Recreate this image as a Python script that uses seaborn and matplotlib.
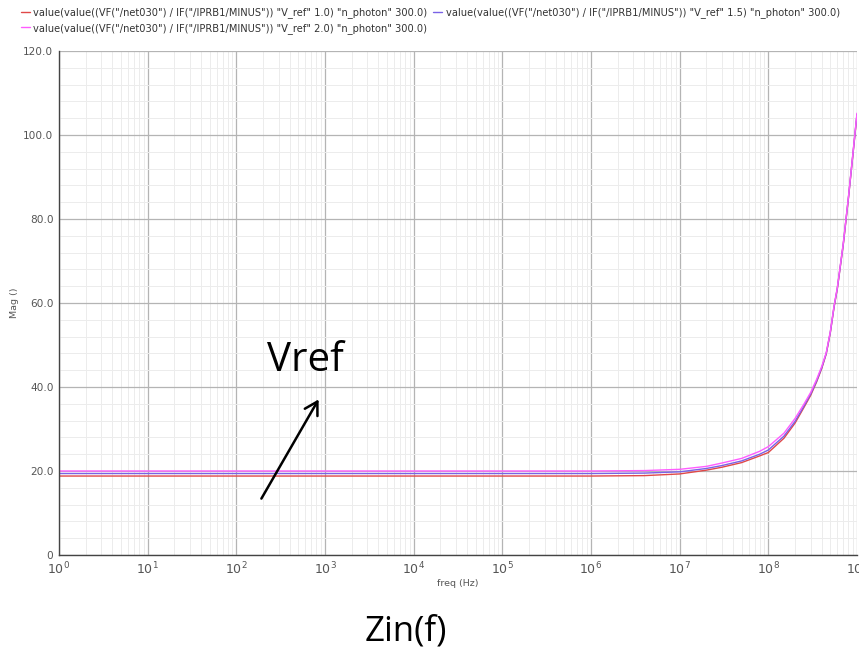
import numpy as np
import pandas as pd
import matplotlib
matplotlib.use("Agg")
import matplotlib.pyplot as plt
import seaborn as sns
from matplotlib.ticker import FixedLocator, FuncFormatter, LogLocator, MultipleLocator

# ---- data ----
freq = [1, 1e6, 4e6, 1e7, 2e7, 3e7, 5e7, 8e7, 1e8, 1.5e8, 2e8, 2.5e8, 3e8,
        3.5e8, 4e8, 4.5e8, 5e8, 5.5e8, 6e8, 7e8, 8e8, 9e8, 1e9]
mag_vref10 = [18.8, 18.8, 18.9, 19.3, 20.2, 20.9, 22.0, 23.6, 24.4, 27.8, 31.4,
              35.0, 38.0, 41.2, 44.4, 47.9, 52.9, 58.9, 63.4, 73.9, 84.9, 95.4, 104.8]
mag_vref15 = [19.4, 19.4, 19.5, 19.8, 20.6, 21.3, 22.4, 24.0, 25.0, 28.3, 31.8,
              35.3, 38.3, 41.4, 44.6, 48.0, 53.0, 59.0, 63.5, 74.0, 85.0, 95.5, 105.0]
mag_vref20 = [20.0, 20.0, 20.1, 20.4, 21.1, 21.9, 23.0, 24.7, 25.8, 29.0, 32.5,
              35.8, 38.7, 41.8, 44.9, 48.2, 53.2, 59.2, 63.7, 74.2, 85.2, 95.7, 105.2]
series_labels = [
    'value(value((VF("/net030") / IF("/IPRB1/MINUS")) "V_ref" 1.0) "n_photon" 300.0)',
    'value(value((VF("/net030") / IF("/IPRB1/MINUS")) "V_ref" 1.5) "n_photon" 300.0)',
    'value(value((VF("/net030") / IF("/IPRB1/MINUS")) "V_ref" 2.0) "n_photon" 300.0)',
]
series_colors = ["#e04848", "#7a62e6", "#ff5cff"]
y_ticks = [0, 20, 40, 60, 80, 100, 120]
x_decades = list(range(0, 10))

df = pd.concat([
    pd.DataFrame({"freq": freq, "mag": m, "series": lab})
    for m, lab in zip([mag_vref10, mag_vref15, mag_vref20], series_labels)
])

sns.set_theme(style="white")
plt.rcParams["font.family"] = ["DejaVu Sans"]

fig = plt.figure(figsize=(8.59, 6.59), dpi=100)
ax = fig.add_axes([59 / 859, 104 / 659, 798 / 859, 504 / 659])

sns.lineplot(data=df, x="freq", y="mag", hue="series", hue_order=series_labels,
             palette=series_colors, ax=ax, legend=False, linewidth=1.0,
             estimator=None, sort=True)

ax.set_xscale("log")
ax.set_xlim(1, 1e9)
ax.set_ylim(0, 120)

ax.xaxis.set_major_locator(FixedLocator([10.0 ** d for d in x_decades]))
ax.xaxis.set_major_formatter(FuncFormatter(lambda v, p: r"$10^{%d}$" % round(np.log10(v))))
ax.xaxis.set_minor_locator(LogLocator(base=10, subs=np.arange(2, 10), numticks=30))
ax.yaxis.set_major_locator(FixedLocator(y_ticks))
ax.yaxis.set_major_formatter(FuncFormatter(lambda v, p: "0" if v == 0 else f"{v:.1f}"))
ax.yaxis.set_minor_locator(MultipleLocator(4))

ax.grid(which="major", color="#b4b4b4", linewidth=0.9)
ax.grid(which="minor", color="#ececec", linewidth=0.7)
ax.set_axisbelow(True)

for s in ["top", "right"]:
    ax.spines[s].set_visible(False)
for s in ["left", "bottom"]:
    ax.spines[s].set_color("#444444")
    ax.spines[s].set_linewidth(1.0)

ax.tick_params(axis="both", which="major", labelsize=7.6, labelcolor="#555555",
               length=3, width=0.8, color="#444444", direction="out", pad=1)
ax.tick_params(axis="both", which="minor", length=2, width=0.6,
               color="#444444", direction="in")
ax.tick_params(axis="x", which="major", labelsize=9, pad=1)

ax.set_xlabel("freq (Hz)", fontsize=6.8, color="#555555", labelpad=1)
ax.set_ylabel("Mag ()", fontsize=6.8, color="#555555", labelpad=3)

lines = ax.get_lines()[:3]
order = [0, 2, 1]
fig.legend([lines[i] for i in order], [series_labels[i] for i in order],
           loc="upper left", bbox_to_anchor=(21 / 859, 1 - 7 / 659), ncol=2,
           frameon=False, fontsize=7.1, handlelength=0.9, handletextpad=0.35,
           columnspacing=0.6, labelspacing=0.5, borderaxespad=0, borderpad=0,
           labelcolor="#333333")

# annotations from the slide
fig.text(305 / 859, 1 - 361 / 659, "Vref", fontsize=29, ha="center", va="center",
         family=["Open Sans", "DejaVu Sans"], color="black")
fig.text(406 / 859, 1 - 632 / 659, "Zin(f)", fontsize=25, ha="center", va="center",
         family=["Open Sans", "DejaVu Sans"], color="black")
fig.add_artist(matplotlib.patches.FancyArrowPatch(
    (260 / 859, 1 - 501 / 659), (320 / 859, 1 - 397 / 659),
    transform=fig.transFigure, arrowstyle="->,head_length=6,head_width=3.5",
    color="black", linewidth=1.8, mutation_scale=1.5))

fig.savefig("out.png", dpi=100)
